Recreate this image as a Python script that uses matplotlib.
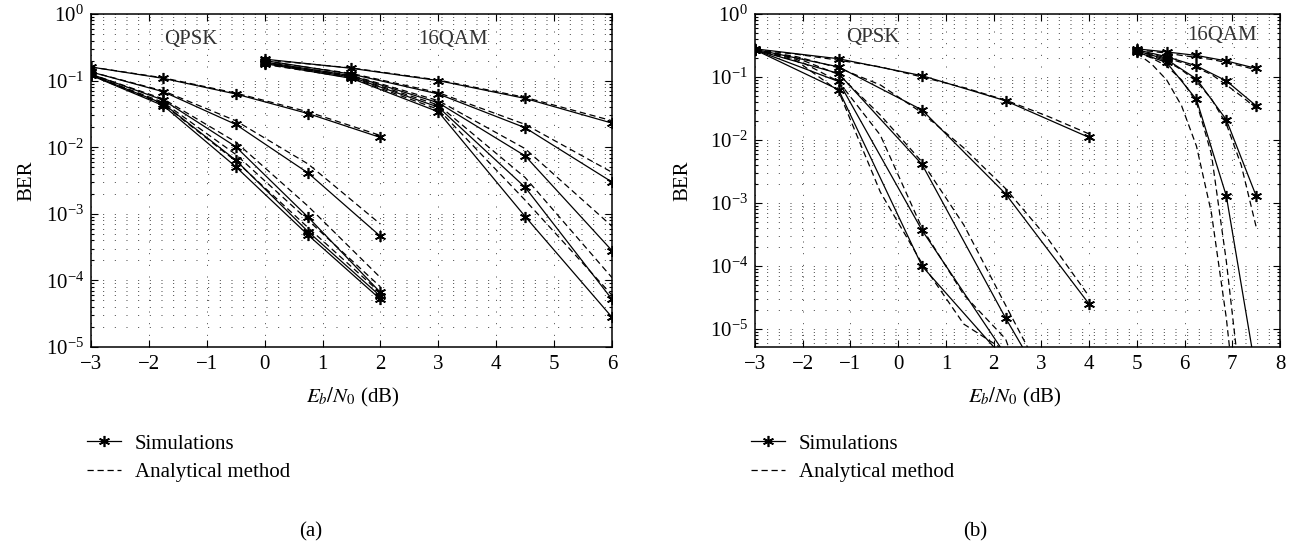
import matplotlib
matplotlib.use('Agg')
import matplotlib.pyplot as plt
from matplotlib.lines import Line2D
from matplotlib.ticker import LogLocator, FixedLocator, NullFormatter

plt.rcParams['font.family'] = ['Liberation Serif', 'DejaVu Serif']
plt.rcParams['mathtext.fontset'] = 'stix'
FS = 15
plt.rcParams['font.size'] = FS

# ---------------- panel (a) ----------------
qpsk_a_x = [-3, -1.75, -0.5, 0.75, 2]
qpsk_a_sim = [
    [0.16, 0.108, 0.063, 0.032, 0.014],
    [0.135, 0.068, 0.022, 0.0041, 4.6e-4],
    [0.125, 0.051, 0.0102, 8.9e-4, 6.6e-5],
    [0.122, 0.045, 0.0064, 5.4e-4, 5.8e-5],
    [0.12, 0.042, 0.0051, 4.8e-4, 5.2e-5],
]
qpsk_a_ana = [
    [0.16, 0.11, 0.065, 0.034, 0.015],
    [0.135, 0.07, 0.025, 0.0056, 7.0e-4],
    [0.125, 0.053, 0.012, 0.0013, 1.1e-4],
    [0.122, 0.047, 0.0078, 8.0e-4, 8.0e-5],
    [0.12, 0.044, 0.0062, 6.2e-4, 6.5e-5],
]
qam_a_x = [0, 1.5, 3, 4.5, 6]
qam_a_sim = [
    [0.21, 0.153, 0.10, 0.054, 0.023],
    [0.20, 0.125, 0.063, 0.0196, 0.0030],
    [0.19, 0.118, 0.0465, 0.0074, 2.8e-4],
    [0.185, 0.113, 0.040, 0.0025, 5.2e-5],
    [0.18, 0.108, 0.034, 9.1e-4, 2.8e-5],
]
qam_a_ana = [
    [0.205, 0.155, 0.102, 0.056, 0.025],
    [0.195, 0.128, 0.066, 0.022, 0.0042],
    [0.185, 0.12, 0.05, 0.0095, 6.5e-4],
    [0.18, 0.115, 0.043, 0.0035, 1.1e-4],
    [0.175, 0.11, 0.037, 0.0016, 6.0e-5],
]

# ---------------- panel (b) ----------------
qpsk_b_x = [-3, -1.25, 0.5, 2.25, 4]
qpsk_b_sim = [
    [0.28, 0.195, 0.105, 0.042, 0.011],
    [0.275, 0.145, 0.030, 0.0014, 2.5e-5],
    [0.27, 0.114, 0.0041, 1.5e-5, 8e-8],
    [0.27, 0.085, 3.7e-4, 3.9e-6],
    [0.27, 0.063, 1.0e-4, 3.2e-6],
]
qpsk_b_ana_x = [-3, -2.125, -1.25, -0.375, 0.5, 1.375, 2.25, 3.125, 4]
qpsk_b_ana = [
    [0.27, 0.23, 0.185, 0.145, 0.10, 0.068, 0.043, 0.024, 0.0125],
    [0.27, 0.21, 0.14, 0.075, 0.027, 0.0075, 0.0017, 2.8e-4, 3.3e-5],
    [0.27, 0.20, 0.11, 0.025, 0.0045, 4.5e-4, 2.4e-5, 1.3e-6],
    [0.27, 0.19, 0.085, 0.012, 4.0e-4, 3.5e-5, 7.0e-6, 1e-7],
    [0.27, 0.18, 0.06, 0.0015, 1.1e-4, 1.2e-5, 4.5e-6, 1e-7],
]
qam_b_x = [5, 5.625, 6.25, 6.875, 7.5]
qam_b_sim = [
    [0.28, 0.25, 0.22, 0.18, 0.137],
    [0.27, 0.21, 0.15, 0.087, 0.035],
    [0.26, 0.19, 0.093, 0.021, 1.3e-3],
    [0.25, 0.17, 0.044, 1.3e-3, 2e-6],
]
qam_b_ana_x = [5, 5.3125, 5.625, 5.9375, 6.25, 6.5625, 6.875, 7.1875, 7.5]
qam_b_ana = [
    [0.27, 0.255, 0.24, 0.22, 0.205, 0.19, 0.17, 0.15, 0.13],
    [0.26, 0.23, 0.20, 0.17, 0.14, 0.11, 0.075, 0.05, 0.032],
    [0.25, 0.215, 0.18, 0.13, 0.085, 0.045, 0.018, 0.004, 4.2e-4],
    [0.25, 0.20, 0.15, 0.09, 0.04, 0.006, 1.2e-4, 1e-6, 1e-8],
    [0.24, 0.16, 0.09, 0.035, 0.008, 7e-4, 1.5e-5, 1e-7, 1e-9],
]

xticks_a = [-3, -2, -1, 0, 1, 2, 3, 4, 5, 6]
xticks_b = [-3, -2, -1, 0, 1, 2, 3, 4, 5, 6, 7, 8]

W, H = 1295, 543
fig = plt.figure(figsize=(W / 100, H / 100), dpi=100)

def px(x0, y0, w, h):
    return [x0 / W, 1 - (y0 + h) / H, w / W, h / H]

ax_a = fig.add_axes(px(91, 14, 521, 333))
ax_b = fig.add_axes(px(755, 14, 525, 333))

MK = (6, 2, 0)
sim_kw = dict(color='black', lw=0.9, marker=MK, ms=8, mew=1.2, mec='black')
ana_kw = dict(color='black', lw=0.9, linestyle=(0, (5, 3)))

def style_axis(ax, xlim, ylim, xticks, ylab_x, xlab_x):
    ax.set_yscale('log')
    ax.set_xlim(*xlim)
    ax.set_ylim(*ylim)
    ax.xaxis.set_major_locator(FixedLocator(xticks))
    ax.yaxis.set_major_locator(LogLocator(base=10, numticks=10))
    ax.yaxis.set_minor_locator(LogLocator(base=10, subs=range(2, 10), numticks=50))
    ax.yaxis.set_minor_formatter(NullFormatter())
    ax.tick_params(which='both', direction='in', top=True, right=True, width=0.8)
    ax.tick_params(which='major', length=5, labelsize=FS)
    ax.tick_params(axis='x', which='major', pad=6)
    ax.tick_params(axis='y', which='major', pad=5)
    ax.tick_params(which='minor', length=2.5)
    for s in ax.spines.values():
        s.set_linewidth(1.1)
    gkw = dict(color='0.25', linewidth=0.7, linestyle=(0, (1, 11)))
    ax.grid(True, which='major', axis='both', **gkw)
    ax.grid(True, which='minor', axis='y', **gkw)
    ax.set_xlabel('$E_b/N_0$ (dB)', fontsize=FS)
    ax.set_ylabel('BER', fontsize=FS)
    ax.xaxis.set_label_coords(xlab_x, -0.153)
    ax.xaxis.label.set_va('center')
    ax.yaxis.set_label_coords(ylab_x, 0.5)
    ax.yaxis.label.set_va('center')

# panel (a)
for ys in qpsk_a_ana:
    ax_a.plot(qpsk_a_x[:len(ys)], ys, **ana_kw)
for ys in qam_a_ana:
    ax_a.plot(qam_a_x[:len(ys)], ys, **ana_kw)
for ys in qpsk_a_sim:
    ax_a.plot(qpsk_a_x[:len(ys)], ys, **sim_kw)
for ys in qam_a_sim:
    ax_a.plot(qam_a_x[:len(ys)], ys, **sim_kw)
style_axis(ax_a, (-3, 6), (1e-5, 1), xticks_a, (27 - 91) / 521, (353 - 91) / 521)
ax_a.text(-1.27, 0.42, 'QPSK', ha='center', va='center', color='0.2', fontsize=FS)
ax_a.text(3.25, 0.41, '16QAM', ha='center', va='center', color='0.2', fontsize=FS)

# panel (b)
for ys in qpsk_b_ana:
    ax_b.plot(qpsk_b_ana_x[:len(ys)], ys, **ana_kw)
for ys in qam_b_ana:
    ax_b.plot(qam_b_ana_x[:len(ys)], ys, **ana_kw)
for ys in qpsk_b_sim:
    ax_b.plot(qpsk_b_x[:len(ys)], ys, **sim_kw)
for ys in qam_b_sim:
    ax_b.plot(qam_b_x[:len(ys)], ys, **sim_kw)
style_axis(ax_b, (-3, 8), (5.2e-6, 1), xticks_b, (683 - 755) / 525, (1015 - 755) / 525)
ax_b.text(-0.53, 0.43, 'QPSK', ha='center', va='center', color='0.2', fontsize=FS)
ax_b.text(6.78, 0.46, '16QAM', ha='center', va='center', color='0.2', fontsize=FS)

# legends
handles = [Line2D([], [], **sim_kw), Line2D([], [], **ana_kw)]
labels = ['Simulations', 'Analytical method']
for x0 in (87, 751):
    fig.legend(handles, labels, loc='upper left', bbox_to_anchor=(x0 / W, 1 - 434 / H),
               frameon=False, borderpad=0, borderaxespad=0, handlelength=1.65,
               handletextpad=0.65, labelspacing=0.42, fontsize=FS)

fig.text(311 / W, 1 - 532 / H, '(a)', ha='center', va='center', fontsize=FS)
fig.text(975 / W, 1 - 532 / H, '(b)', ha='center', va='center', fontsize=FS)

fig.savefig('out.png', dpi=100)
